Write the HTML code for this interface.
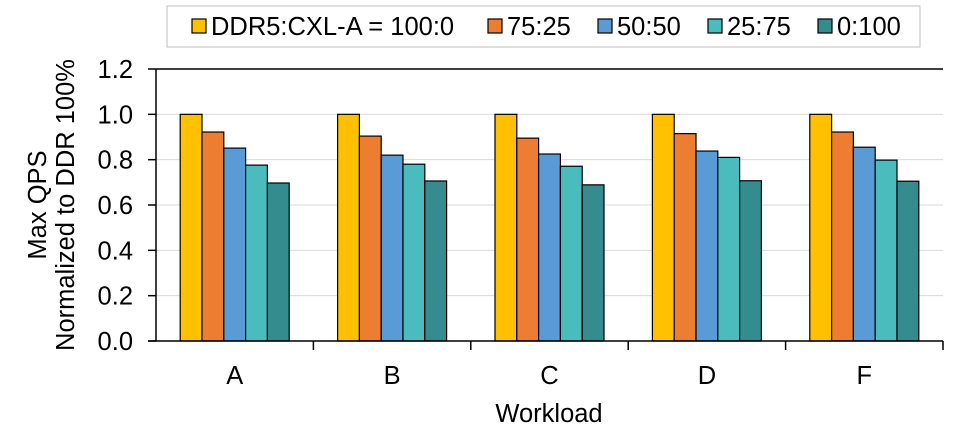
<!DOCTYPE html>
<html><head><style>
body{margin:0;background:#fff;}
svg{display:block;font-family:"Liberation Sans",Arial,sans-serif;}
</style></head><body>
<svg id="chart" width="964" height="437"></svg>
<script>
const categories=["A","B","C","D","F"];
const seriesNames=["DDR5:CXL-A = 100:0","75:25","50:50","25:75","0:100"];
const s100=[1.0,1.0,1.0,1.0,1.0];
const s75=[0.922,0.904,0.895,0.915,0.922];
const s50=[0.851,0.82,0.825,0.838,0.855];
const s25=[0.776,0.78,0.771,0.81,0.798];
const s0=[0.697,0.706,0.689,0.707,0.705];
const yTicks=["0.0","0.2","0.4","0.6","0.8","1.0","1.2"];
const series=[s100,s75,s50,s25,s0];
const colors=["#FFC000","#ED7D31","#5B9BD5","#4BBCBE","#358C8E"];
const NS="http://www.w3.org/2000/svg";
const svg=document.getElementById('chart');
const X0=156,X1=943,Y0=341,Y1=69,YMAX=1.2;
const y=v=>Y0-(v/YMAX)*(Y0-Y1);
const step=(X1-X0)/categories.length;
const bw=21.8;
const FS=25.5;
function mk(t,a,p){const e=document.createElementNS(NS,t);for(const k in a)e.setAttribute(k,a[k]);(p||svg).appendChild(e);return e;}
yTicks.forEach(t=>{const v=parseFloat(t),yy=y(v);
 if(v>0&&v<YMAX){const g=mk('line',{x1:X0,x2:X1,y1:yy,y2:yy,stroke:'#d9d9d9','stroke-width':1});
 
 }
 const tk=mk('line',{x1:X0-8,x2:X0,y1:yy,y2:yy,stroke:'#000','stroke-width':1.5});
 
 
 const tx=mk('text',{x:133,y:yy+9,'text-anchor':'end','font-size':FS,fill:'#000'});tx.textContent=t;
 
 
});
categories.forEach((c,i)=>{const cx=X0+step*(i+0.5);
 series.forEach((s,j)=>{const x=cx-2.5*bw+j*bw;
  const r=mk('rect',{x:x,y:y(s[i]),width:bw,height:Y0-y(s[i]),fill:colors[j],stroke:'#000','stroke-width':1.2});
  
  
 });
 const tx=mk('text',{x:cx,y:384,'text-anchor':'middle','font-size':FS});tx.textContent=c;
 
 
 const tk=mk('line',{x1:X0+step*(i+1),x2:X0+step*(i+1),y1:Y0,y2:Y0+9,stroke:'#000','stroke-width':1.5});
 
 
});
const ax=mk('path',{d:`M${X0},${Y1} H${X1} M${X0},${Y1} V${Y0} M${X0-8},${Y0} H${X1}`,stroke:'#000','stroke-width':1.5,fill:'none'});


const xt=mk('text',{x:549,y:422,'text-anchor':'middle','font-size':FS});xt.textContent='Workload';


const yt=mk('text',{transform:'translate(46,205) rotate(-90)','text-anchor':'middle','font-size':FS});yt.textContent='Max QPS';


const yt2=mk('text',{transform:'translate(74,205) rotate(-90)','text-anchor':'middle','font-size':FS});yt2.textContent='Normalized to DDR 100%';


const lg=mk('rect',{x:167,y:6,width:753,height:41,fill:'#fff',stroke:'#bfbfbf','stroke-width':1});


const lx=[192,488,598,708,818];
seriesNames.forEach((n,j)=>{
 const sw=mk('rect',{x:lx[j],y:19,width:14,height:14,fill:colors[j],stroke:'#000','stroke-width':1.2});
 
 
 const t=mk('text',{x:lx[j]+19,y:35,'font-size':FS});t.textContent=n;
 
 
});
</script>
</body></html>
